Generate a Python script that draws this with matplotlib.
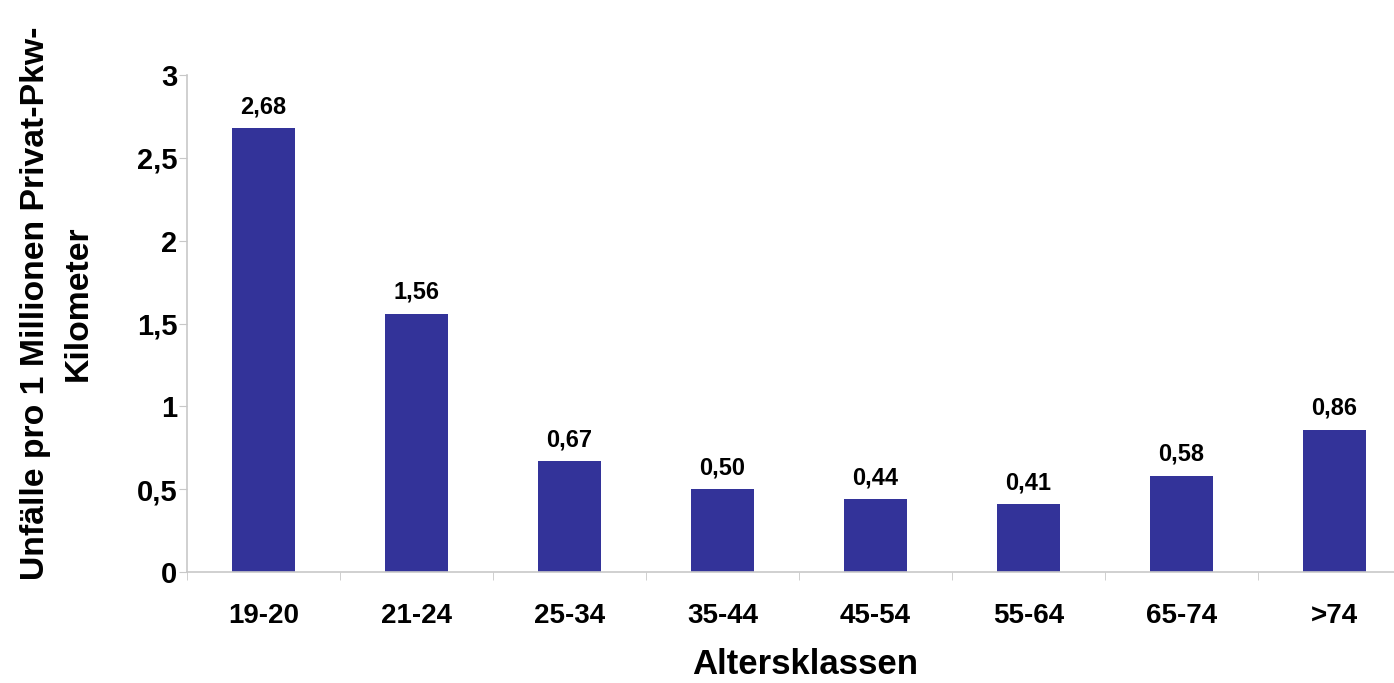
import matplotlib
matplotlib.use("Agg")
import matplotlib.pyplot as plt
import matplotlib.transforms as mtransforms
import numpy as np

categories = ["19-20", "21-24", "25-34", "35-44", "45-54", "55-64", "65-74", ">74"]
values = [2.68, 1.56, 0.67, 0.50, 0.44, 0.41, 0.58, 0.86]
value_labels = ["2,68", "1,56", "0,67", "0,50", "0,44", "0,41", "0,58", "0,86"]
yticks = [0, 0.5, 1, 1.5, 2, 2.5, 3]
ytick_labels = ["0", "0,5", "1", "1,5", "2", "2,5", "3"]

plt.rcParams['font.family'] = ['Liberation Sans', 'DejaVu Sans']
plt.rcParams['font.weight'] = 'bold'

W, H = 1394, 683
fig = plt.figure(figsize=(W/100, H/100), dpi=100)
left, right, top, bottom = 187, 1411, 75, 572
ax = fig.add_axes([left/W, 1 - bottom/H, (right-left)/W, (bottom-top)/H])

x = np.arange(len(categories))
ax.bar(x, values, width=0.41, color="#333399", zorder=2)
for xi, v, lab in zip(x, values, value_labels):
    ax.text(xi, v + 0.06, lab, ha="center", va="bottom", fontsize=17, fontweight="bold")

ax.set_xlim(-0.5, len(categories) - 0.5)
ax.set_ylim(0, 3)
ax.set_yticks(yticks)
ax.set_yticklabels(ytick_labels, fontsize=21, fontweight="bold")
ax.set_xticks(x)
ax.set_xticklabels(categories, fontsize=20, fontweight="bold")
offset = mtransforms.ScaledTranslation(0.10, 0, fig.dpi_scale_trans)
for lbl in ax.get_xticklabels():
    lbl.set_transform(lbl.get_transform() + offset)
ax.tick_params(axis="x", length=0, pad=22)
ax.set_xticks(np.arange(-0.5, len(categories)), minor=True)
ax.tick_params(axis="x", which="minor", length=6, color="#c8c8c8", direction="out")
ax.tick_params(axis="y", length=6, color="#c8c8c8", pad=1)

for s in ["top", "right"]:
    ax.spines[s].set_visible(False)
for s in ["left", "bottom"]:
    ax.spines[s].set_color("#c8c8c8")
    ax.spines[s].set_linewidth(1.2)

fig.text(805/W, 1 - 665/H, "Altersklassen", fontsize=25, fontweight="bold",
         ha="center", va="center")
fig.text(57/W, 1 - 303/H, "Unfälle pro 1 Millionen Privat-Pkw-\nKilometer", fontsize=24.3,
         fontweight="bold", rotation=90, ha="center", va="center",
         multialignment="center", linespacing=1.5)

fig.savefig("out.png", dpi=100)
